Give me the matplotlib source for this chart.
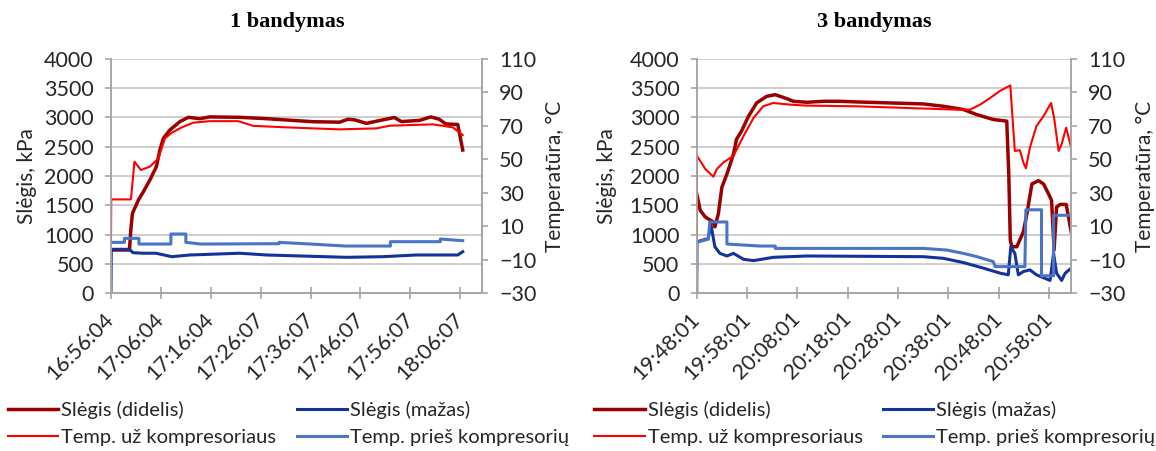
import matplotlib
matplotlib.use("Agg")
import matplotlib.pyplot as plt

plt.rcParams["font.family"] = ["Lato", "DejaVu Sans"]

# ---- 1 bandymas (minutes from 16:56:04) ----
t1_high = [0, 3.7, 4.0, 4.3, 5.5, 6.5, 7.8, 9.1, 9.8, 10.5, 11.8, 13.8, 15.5, 17.8, 19.8, 25.8, 31.2,
           36.5, 40.5, 45.8, 47.5, 48.8, 51.2, 54.5, 56.8, 58.2, 61.8, 64.1, 65.8, 67.1, 69.5, 70.5]
p1_high = [735, 735, 1100, 1362, 1590, 1732, 1932, 2159, 2444, 2644, 2786, 2928, 3003, 2980, 3010, 3003, 2980,
           2950, 2928, 2920, 2970, 2960, 2900, 2960, 3000, 2930, 2950, 3010, 2970, 2890, 2880, 2444]

t1_low = [0, 0.05, 3.7, 4.4, 6.5, 9.0, 12.2, 15.8, 25.8, 31.2, 47.2, 54.5, 61.2, 69.5, 70.5]
p1_low = [0, 747, 747, 689, 680, 680, 621, 650, 680, 650, 610, 621, 650, 650, 706]

t1_out = [0, 0.05, 4.0, 4.7, 6.0, 7.8, 9.5, 10.8, 12.2, 14.2, 16.5, 19.8, 25.5, 28.5, 35.2, 45.8, 53.2,
          55.9, 64.5, 68.5, 70.5]
T1_out = [0, 26, 26, 48.6, 43.6, 45.6, 50.6, 62.5, 65.9, 69.1, 71.9, 72.8, 72.8, 70.0, 69.1, 67.9, 68.5,
          70.1, 70.9, 69.1, 64.5]

t1_in = [0, 2.7, 2.7, 5.6, 5.6, 12.0, 12.0, 15.0, 15.0, 18.0, 33.7, 33.7, 40.0, 47.0, 56.0, 56.0, 66.0,
         66.0, 70.5]
T1_in = [0.3, 0.3, 2.7, 2.7, -0.7, -0.7, 5.3, 5.3, 0.3, -0.7, -0.5, 0.3, -0.7, -1.9, -1.9, 0.7, 0.7,
         2.3, 1.3]

ticks1 = ["16:56:04", "17:06:04", "17:16:04", "17:26:07", "17:36:07", "17:46:07", "17:56:07", "18:06:07"]

# ---- 3 bandymas (minutes from 19:48:01) ----
t3_high = [0, 0.7, 1.7, 3.3, 3.6, 4.3, 5.0, 6.0, 7.3, 7.9, 8.9, 10.3, 11.9, 13.9, 15.6, 17.9, 19.2, 21.9,
           25.2, 28.5, 31.8, 38.4, 45.0, 49.0, 53.0, 55.6, 58.9, 61.6, 62.0, 62.3, 62.6, 63.6, 64.9, 65.6,
           66.6, 67.9, 68.9, 69.9, 70.5, 71.0, 71.5, 72.2, 73.4, 74.4]
p3_high = [1695, 1412, 1299, 1215, 1130, 1356, 1808, 2034, 2373, 2627, 2768, 3023, 3249, 3362, 3390, 3322,
           3277, 3260, 3277, 3277, 3266, 3249, 3232, 3192, 3136, 3051, 2966, 2938, 2034, 904, 791, 791, 1045,
           1356, 1864, 1921, 1864, 1695, 1582, 734, 1469, 1514, 1514, 1045]

t3_low = [0, 0.05, 2.3, 2.8, 3.6, 4.6, 6.0, 7.3, 9.3, 11.3, 15.2, 21.9, 45.0, 49.0, 53.0, 57.0, 60.3, 61.9,
          62.4, 63.2, 63.9, 64.9, 66.2, 67.5, 70.2, 70.9, 71.5, 72.5, 73.2, 74.4]
p3_low = [0, 876, 932, 1186, 791, 678, 633, 678, 576, 554, 610, 633, 621, 593, 520, 424, 339, 311,
          791, 678, 311, 367, 395, 311, 215, 678, 339, 215, 339, 424]

t3_out = [0, 0.05, 1.7, 3.3, 4.0, 5.3, 7.3, 9.3, 11.3, 13.2, 15.2, 18.5, 21.9, 31.8, 41.7, 51.7, 54.3,
          56.3, 58.3, 60.3, 62.3, 63.2, 64.2, 64.9, 65.4, 66.2, 67.5, 68.9, 70.4, 71.0, 71.9, 72.5, 73.4, 74.4]
T3_out = [1.6, 52.1, 44.2, 39.6, 44.2, 48.1, 52.1, 63.9, 74.8, 81.7, 83.7, 82.7, 82.1, 81.7, 80.7, 79.7,
          79.7, 82.7, 86.7, 91.0, 94.2, 55.0, 55.4, 48.1, 44.6, 57.0, 69.9, 75.8, 83.7, 74.8, 55.0, 59.0,
          68.9, 57.0]

t3_in = [0, 2.3, 2.6, 6.0, 6.0, 12.6, 15.6, 15.6, 45.0, 49.7, 53.0, 55.6, 58.9, 59.3, 65.2, 65.4, 68.5,
         68.5, 70.9, 70.9, 74.4]
T3_in = [0.3, 2.2, 12.5, 12.5, -0.7, -1.9, -1.9, -3.3, -3.3, -4.3, -6.3, -8.2, -11.2, -14.2, -14.2, 19.8,
         19.8, -19.7, -19.7, 16.5, 16.5]

ticks3 = ["19:48:01", "19:58:01", "20:08:01", "20:18:01", "20:28:01", "20:38:01", "20:48:01", "20:58:01"]

labels = ["Slėgis (didelis)", "Temp. už kompresoriaus", "Slėgis (mažas)", "Temp. prieš kompresorių"]

C_HIGH = "#9A0000"
C_LOW = "#14339A"
C_OUT = "#FF0000"
C_IN = "#4A74C6"
GRID = "#C6C6C6"
SPINE = "#A6A6A6"
TXT = "#262626"
FS = 14.5       # legend
FS_Y = 15.5     # y tick labels
FS_X = 15.5     # rotated time labels
FS_LAB = 15     # axis titles


def draw_panel(fig, rect, title, ticklabels, high, low, out, inn, lab_left, lab_right):
    ax = fig.add_axes(rect)
    ax2 = ax.twinx()

    l_high, = ax.plot(*high, color=C_HIGH, linewidth=2.5, solid_joinstyle="round")
    l_low, = ax.plot(*low, color=C_LOW, linewidth=2.2, solid_joinstyle="round")
    l_in, = ax2.plot(*inn, color=C_IN, linewidth=2.2)
    l_out, = ax2.plot(*out, color=C_OUT, linewidth=1.5)

    ax.set_ylim(0, 4000)
    ax.set_yticks(range(0, 4001, 500))
    ax2.set_ylim(-30, 110)
    ax2.set_yticks(range(-30, 111, 20))
    ax2.set_yticklabels([str(v).replace("-", "\u2212") for v in range(-30, 111, 20)])
    ax.set_xlim(0, 74.3)
    ax.set_xticks(range(0, 71, 10))
    ax.set_xticklabels(ticklabels, rotation=45, ha="right", va="center", rotation_mode="anchor")

    ax.grid(axis="y", color=GRID, linewidth=1.2)
    ax.set_axisbelow(True)
    for a in (ax, ax2):
        a.spines["top"].set_visible(False)
        for s in ("left", "right", "bottom"):
            a.spines[s].set_color(SPINE)
            a.spines[s].set_linewidth(1.2)
    ax.tick_params(axis="y", length=4.5, width=1.2, color=SPINE, pad=8, labelsize=FS_Y, labelcolor=TXT)
    ax2.tick_params(axis="y", length=4.5, width=1.2, color=SPINE, pad=8, labelsize=FS_Y, labelcolor=TXT)
    ax.tick_params(axis="x", direction="inout", length=9, width=1.2, color=SPINE, pad=12,
                   labelsize=FS_X, labelcolor=TXT)

    ax.set_ylabel("Slėgis, kPa", fontsize=FS_LAB, color=TXT)
    ax2.set_ylabel("Temperatūra, °C", fontsize=FS_LAB, color=TXT)
    ax.yaxis.set_label_coords(lab_left, 0.5)
    ax2.yaxis.set_label_coords(lab_right, 0.5)

    x0, _, w, _ = rect
    fig.text(x0 + w / 2 - 0.008, 0.951, title, ha="center", va="center", fontsize=16,
             fontweight="bold", family="Liberation Serif")
    return [l_high, l_out, l_low, l_in]


fig = plt.figure(figsize=(11.56, 4.51), dpi=100)

h1 = draw_panel(fig, [0.0960, 0.3503, 0.3207, 0.5189], "1 bandymas", ticks1,
                (t1_high, p1_high), (t1_low, p1_low), (t1_out, T1_out), (t1_in, T1_in), -0.20, 1.171)
h3 = draw_panel(fig, [0.6027, 0.3503, 0.3235, 0.5189], "3 bandymas", ticks3,
                (t3_high, p3_high), (t3_low, p3_low), (t3_out, T3_out), (t3_in, T3_in), -0.213, 1.172)

for handles, x in ((h1, 0.007), (h3, 0.514)):
    fig.legend(handles, labels, loc="upper left", bbox_to_anchor=(x, 0.112), ncol=2, frameon=False,
               fontsize=FS, handlelength=2.5, handletextpad=0.15, columnspacing=1.0, labelspacing=0.5,
               borderpad=0, borderaxespad=0, labelcolor=TXT)

fig.savefig("out.png", dpi=100)
